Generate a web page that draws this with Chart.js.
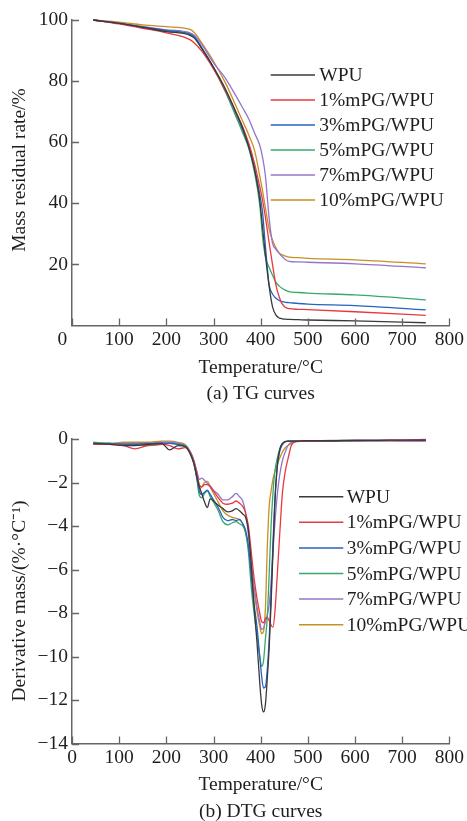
<!DOCTYPE html>
<html><head><meta charset="utf-8">
<script src="https://cdn.jsdelivr.net/npm/chart.js@4.4.1/dist/chart.umd.min.js"></script>
<style>
html,body{margin:0;padding:0;background:#fff;width:467px;height:821px;overflow:hidden;position:relative;}
#w1{position:absolute;left:0;top:0;width:467px;height:410px;}
#w2{position:absolute;left:0;top:410px;width:467px;height:430px;}
</style></head><body>
<div id="w1"><canvas id="c1"></canvas></div>
<div id="w2"><canvas id="c2"></canvas></div>
<script>
// ---------- DATA ----------
const seriesNames = ['WPU', '1%mPG/WPU', '3%mPG/WPU', '5%mPG/WPU', '7%mPG/WPU', '10%mPG/WPU'];
const xTicks = [0, 100, 200, 300, 400, 500, 600, 700, 800];
const tgYTicks = [20, 40, 60, 80, 100];
const dtgYTicks = [0, -2, -4, -6, -8, -10, -12, -14];

// TG curves (mass residual rate, %)
const tgTemps = [45, 100, 150, 200, 250, 260, 275, 300, 325, 350, 362, 375, 387, 398, 404, 410, 418, 425, 432, 440, 446, 452, 460, 480, 500, 600, 750];
const tgWPU   = [100, 98.9, 97.6, 96.2, 95.0, 94.0, 90.7, 84.5, 77.5, 69.0, 64.5, 58.3, 51.0, 41.0, 32.0, 23.0, 12.7, 6.2, 3.5, 2.4, 2.2, 2.1, 2.0, 1.9, 1.8, 1.5, 0.9];
const tg1     = [100, 98.7, 97.3, 95.8, 93.6, 92.4, 89.8, 84.0, 77.0, 69.0, 65.0, 59.5, 53.0, 45.5, 41.0, 35.5, 27.0, 20.0, 13.5, 9.0, 7.0, 6.0, 5.5, 5.3, 5.2, 4.5, 3.3];
const tg3     = [100, 98.9, 97.7, 96.6, 95.4, 94.4, 91.0, 84.5, 77.0, 68.5, 64.0, 58.5, 51.5, 43.0, 37.0, 26.0, 13.3, 10.3, 9.0, 8.1, 7.8, 7.6, 7.5, 7.2, 7.0, 6.5, 5.1];
const tg5     = [100, 98.9, 97.7, 96.4, 95.3, 94.2, 90.7, 84.2, 76.5, 67.5, 63.0, 57.8, 50.0, 39.5, 29.0, 22.5, 19.0, 16.5, 14.2, 12.8, 12.1, 11.6, 11.1, 10.8, 10.6, 10.0, 8.4];
const tg7     = [100, 99.0, 97.9, 96.8, 95.8, 94.9, 92.0, 86.0, 81.0, 74.5, 71.2, 67.5, 63.0, 59.0, 55.0, 49.0, 35.0, 27.0, 25.0, 23.5, 22.5, 21.6, 21.0, 20.8, 20.7, 20.2, 18.9];
const tg10    = [100, 99.3, 98.4, 97.8, 96.9, 95.8, 92.5, 86.5, 79.5, 71.0, 66.8, 62.3, 57.3, 49.0, 44.0, 38.5, 31.5, 28.0, 25.5, 23.6, 23.1, 22.7, 22.4, 22.2, 22.0, 21.5, 20.2];

// DTG curves (derivative mass, %/°C)
const dtgTemps = [45, 80, 110, 133, 160, 190, 207, 225, 240, 250, 258, 265, 270, 275, 281, 287, 293, 300, 310, 320, 330, 340, 348, 355, 362, 368, 374, 380, 386, 392, 398, 402, 406, 410, 414, 418, 422, 426, 430, 435, 440, 446, 452, 458, 465, 475, 500, 550, 600, 650, 700, 750];
const dtgWPU = [-0.2, -0.25, -0.3, -0.3, -0.25, -0.2, -0.5, -0.3, -0.35, -0.65, -1.1, -1.75, -2.2, -2.5, -2.9, -3.15, -2.75, -2.85, -3.05, -3.2, -3.35, -3.3, -3.2, -3.3, -3.45, -3.6, -4.2, -5.8, -7.7, -9.3, -11.2, -12.2, -12.55, -12.2, -11.0, -9.6, -7.6, -5.2, -3.0, -1.3, -0.5, -0.2, -0.12, -0.1, -0.1, -0.1, -0.08, -0.08, -0.06, -0.06, -0.05, -0.05];
const dtg1   = [-0.25, -0.25, -0.3, -0.45, -0.3, -0.25, -0.3, -0.45, -0.4, -0.6, -1.0, -1.6, -2.1, -2.2, -2.1, -2.1, -2.2, -2.4, -2.7, -2.95, -3.0, -2.95, -2.85, -2.95, -3.1, -3.4, -4.0, -5.2, -6.4, -7.3, -8.0, -8.4, -8.45, -8.25, -8.2, -8.35, -8.55, -8.65, -8.0, -6.3, -4.5, -2.5, -1.5, -0.9, -0.3, -0.12, -0.1, -0.08, -0.07, -0.06, -0.05, -0.02];
const dtg3   = [-0.25, -0.2, -0.25, -0.25, -0.2, -0.2, -0.2, -0.25, -0.35, -0.65, -1.1, -1.8, -2.4, -2.55, -2.45, -2.35, -2.55, -2.8, -3.15, -3.6, -3.75, -3.7, -3.75, -3.7, -3.9, -4.2, -4.9, -6.3, -7.6, -8.6, -10.0, -10.9, -11.45, -11.4, -10.6, -9.2, -7.2, -4.8, -2.8, -1.3, -0.6, -0.25, -0.12, -0.1, -0.1, -0.1, -0.08, -0.08, -0.07, -0.07, -0.06, -0.06];
const dtg5   = [-0.15, -0.2, -0.25, -0.25, -0.3, -0.25, -0.2, -0.25, -0.3, -0.6, -1.1, -1.9, -2.6, -2.7, -2.5, -2.4, -2.65, -2.9, -3.3, -3.8, -3.95, -3.85, -3.8, -3.9, -4.0, -4.3, -5.2, -6.8, -8.0, -9.0, -10.0, -10.45, -10.2, -9.2, -8.2, -6.2, -4.0, -2.5, -1.5, -0.9, -0.5, -0.25, -0.12, -0.1, -0.1, -0.08, -0.08, -0.07, -0.07, -0.06, -0.06, -0.06];
const dtg7   = [-0.2, -0.2, -0.2, -0.2, -0.2, -0.15, -0.15, -0.2, -0.3, -0.55, -0.95, -1.5, -1.85, -1.8, -1.9, -2.05, -2.15, -2.35, -2.55, -2.8, -2.8, -2.65, -2.5, -2.65, -2.85, -3.4, -4.4, -5.6, -6.8, -7.7, -8.4, -8.75, -8.7, -8.4, -8.1, -7.6, -6.6, -5.2, -3.9, -2.6, -1.7, -1.0, -0.6, -0.3, -0.15, -0.1, -0.1, -0.08, -0.1, -0.08, -0.1, -0.1];
const dtg10  = [-0.2, -0.2, -0.15, -0.15, -0.15, -0.1, -0.1, -0.15, -0.25, -0.55, -1.0, -1.8, -2.3, -2.2, -2.0, -1.95, -2.2, -2.5, -2.9, -3.3, -3.5, -3.6, -3.65, -3.7, -3.9, -4.3, -5.0, -6.0, -7.0, -7.9, -8.6, -8.95, -8.85, -7.8, -5.0, -3.1, -2.4, -1.85, -1.5, -1.15, -0.9, -0.6, -0.4, -0.3, -0.2, -0.12, -0.1, -0.1, -0.08, -0.08, -0.08, -0.08];

// ---------- STYLE ----------
const colors = ['#3a3a3a', '#e8383f', '#2563c0', '#38a86a', '#9474cc', '#c98f20'];
const FONT = "'Liberation Serif','Times New Roman',serif";
const FS = 19.5;
const TXT = '#1e1e1e';
const AXC = '#666';

Chart.defaults.font.family = FONT;
Chart.defaults.font.size = FS;
Chart.defaults.color = TXT;

function mk(temps, vals, i) {
  return {
    label: seriesNames[i],
    data: temps.map((t, k) => ({x: t, y: vals[k]})),
    borderColor: colors[i], backgroundColor: colors[i],
    borderWidth: 1.3, pointRadius: 0, fill: false,
    cubicInterpolationMode: 'monotone', clip: 4
  };
}

const inwardTicks = {
  id: 'inwardTicks',
  afterDraw(chart) {
    const {ctx, chartArea: a, scales: {x, y}} = chart;
    ctx.save();
    ctx.strokeStyle = AXC; ctx.lineWidth = 1.3;
    ctx.beginPath();
    x.ticks.forEach(t => { const p = Math.round(x.getPixelForValue(t.value)) + 0.5; ctx.moveTo(p, a.bottom); ctx.lineTo(p, a.bottom - 7); });
    y.ticks.forEach(t => { const p = Math.round(y.getPixelForValue(t.value)) + 0.5; ctx.moveTo(a.left, p); ctx.lineTo(a.left + 7, p); });
    ctx.stroke();
    ctx.restore();
  }
};

const customText = {
  id: 'customText',
  afterDraw(chart, args, o) {
    const ctx = chart.ctx;
    ctx.save();
    ctx.font = FS + 'px ' + FONT;
    ctx.fillStyle = TXT;
    // y title
    ctx.translate(o.ytx, o.yty);
    ctx.rotate(-Math.PI / 2);
    ctx.textAlign = 'center'; ctx.textBaseline = 'middle';
    ctx.fillText(o.ytitle, 0, 0);
    ctx.restore();
    // legend
    ctx.save();
    ctx.font = FS + 'px ' + FONT;
    ctx.textAlign = 'left'; ctx.textBaseline = 'middle';
    chart.data.datasets.forEach((ds, i) => {
      const yy = o.ly + i * o.ldy;
      ctx.strokeStyle = ds.borderColor; ctx.lineWidth = 1.5;
      ctx.beginPath(); ctx.moveTo(o.lx0, yy); ctx.lineTo(o.lx1, yy); ctx.stroke();
      ctx.fillStyle = TXT;
      ctx.fillText(ds.label, o.ltx, yy + 1);
    });
    ctx.restore();
  }
};

function makeChart(id, datasets, yMin, yMax, yTicks, yFmt, xFmt, caption, xH, titlePadB, padTop, txtOpts) {
  return new Chart(document.getElementById(id), {
    type: 'line',
    data: {datasets},
    options: {
      responsive: true, maintainAspectRatio: false, animation: false, devicePixelRatio: 1,
      layout: {padding: {left: 0, right: 16.3, top: padTop, bottom: 0}},
      plugins: {legend: {display: false}, tooltip: {enabled: false}, customText: txtOpts},
      scales: {
        x: {
          type: 'linear', min: 0, max: 800,
          afterBuildTicks: s => { s.ticks = xTicks.map(v => ({value: v})); },
          ticks: {padding: 3, maxRotation: 0, autoSkip: false, color: TXT, font: {size: FS}, callback: xFmt},
          grid: {display: false, drawTicks: false},
          border: {display: true, color: AXC, width: 1.5},
          title: {display: true, text: ['Temperature/°C', caption], color: TXT, font: {size: FS, lineHeight: 26.5 / FS}, padding: {top: 0, bottom: titlePadB}},
          afterFit: s => { s.height = xH; }
        },
        y: {
          type: 'linear', min: yMin, max: yMax,
          afterBuildTicks: s => { s.ticks = yTicks.map(v => ({value: v})); },
          ticks: {padding: 4, color: TXT, font: {size: FS}, callback: yFmt},
          grid: {display: false, drawTicks: false},
          border: {display: true, color: AXC, width: 1.5},
          afterFit: s => { s.width = 72; }
        }
      }
    },
    plugins: [inwardTicks, customText]
  });
}

const tgSets = [tgWPU, tg1, tg3, tg5, tg7, tg10].map((v, i) => mk(tgTemps, v, i));
const dtgSets = [dtgWPU, dtg1, dtg3, dtg5, dtg7, dtg10].map((v, i) => mk(dtgTemps, v, i));

makeChart('c1', tgSets, 0, 100, tgYTicks, v => String(v), v => (v === 0 ? '0    ' : String(v)),
  '(a) TG curves', 84.5, 2.75, 20,
  {ytitle: 'Mass residual rate/%', ytx: 20, yty: 170, lx0: 270.7, lx1: 315, ltx: 319.3, ly: 75, ldy: 25});

makeChart('c2', dtgSets, -14, 0, dtgYTicks, v => (v < 0 ? '\u2212' + Math.abs(v) : String(v)), v => String(v),
  '(b) DTG curves', 96.5, 15, 29,
  {ytitle: 'Derivative mass/(%·°C\u207B\u00B9)', ytx: 20, yty: 191, lx0: 299, lx1: 343.3, ltx: 346.7, ly: 86.7, ldy: 25.6});
</script>
</body></html>
